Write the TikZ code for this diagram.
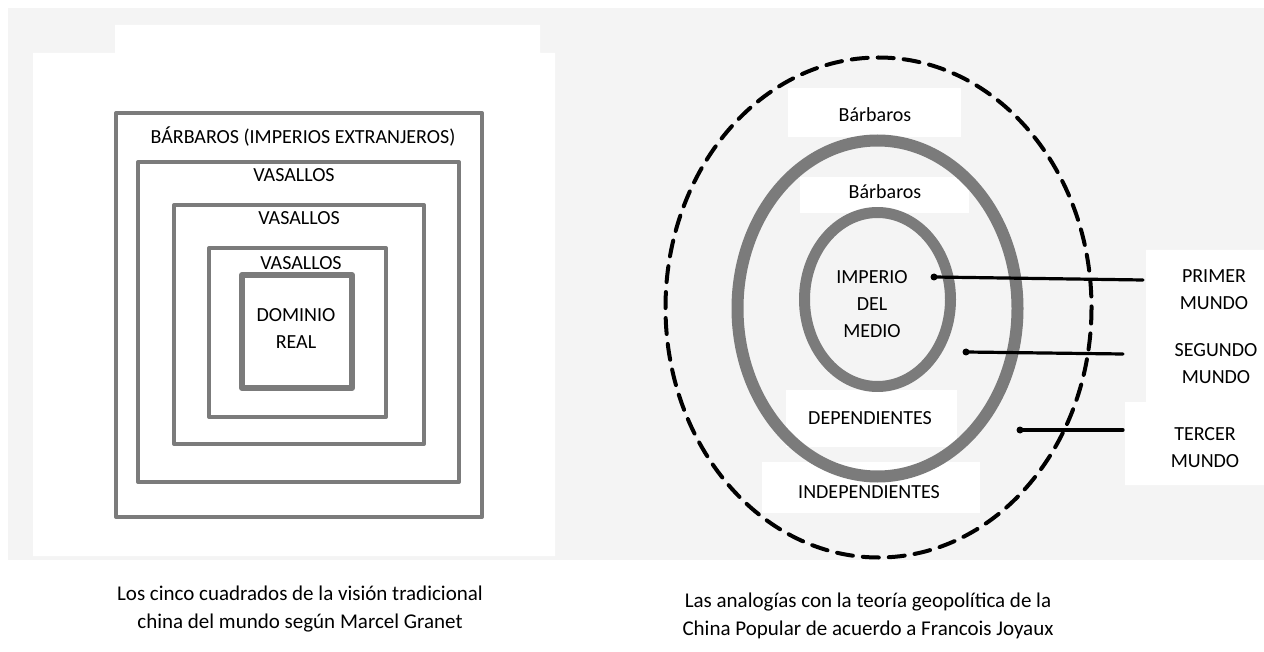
\documentclass[tikz,border=0pt]{standalone}
\usepackage{fontspec}
\setmainfont{Carlito}
\tikzset{
  ring/.style={draw=ringgray,line width=#1},
  lbl/.style={font=\fontsize{10}{13.5}\selectfont,align=center,inner sep=1pt},
  captext/.style={font=\fontsize{10.5}{13.75}\selectfont,align=center,inner sep=1pt},
  patch/.style={fill=white,draw=none},
  link/.style={line width=1.6pt,line cap=round},
}
\definecolor{ringgray}{HTML}{7B7B7B}
\definecolor{scan}{HTML}{F4F4F4}
\begin{document}
\begin{tikzpicture}[x=0.5pt,y=-0.5pt,line join=round]
  \useasboundingbox (0,0) rectangle (1264,652);
  % faint scanned backdrop and the white patches on it
  \fill[scan] (8,8) rectangle (1264,560);
  \fill[patch] (33,53) rectangle (555,556) (115,25) rectangle (540,53);
  \fill[patch] (788,88) rectangle (961,137);
  \fill[patch] (800,177) rectangle (969,213);
  \fill[patch] (786,390) rectangle (957,447);
  \fill[patch] (762,462) rectangle (980,513);
  \fill[patch] (1146,250) rectangle (1264,402) (1125,402) rectangle (1264,485);

  % left: the five nested squares
  \draw[ring=2pt] (116,113) rectangle (482,517);
  \draw[ring=2pt] (138,162) rectangle (459,482);
  \draw[ring=2pt] (174,205) rectangle (424,444);
  \draw[ring=2pt] (209,248) rectangle (386,417);
  \draw[ring=3pt] (242,275) rectangle (352,388);
  \node[lbl] (barb) at (303,137) {BÁRBAROS (IMPERIOS EXTRANJEROS)};
  \node[lbl] (vas1) at (294,175) {VASALLOS};
  \node[lbl] (vas2) at (299,218) {VASALLOS};
  \node[lbl] (vas3) at (301,263) {VASALLOS};
  \node[lbl] (dom) at (296,329) {DOMINIO\\REAL};

  % right: the rings of the world
  \draw[line width=2pt,line cap=round,dash pattern=on 8pt off 5pt] (878.5,307.5) ellipse [x radius=213, y radius=250];
  \draw[ring=6pt] (877.5,308.5) ellipse [x radius=140, y radius=168];
  \draw[ring=5.5pt] (877.5,299.5) ellipse [x radius=73, y radius=87];
  \node[lbl] (bar1) at (875,115) {Bárbaros};
  \node[lbl] (bar2) at (885,192) {Bárbaros};
  \node[lbl] (imp) at (872,304) {IMPERIO\\DEL\\MEDIO};
  \node[lbl] (dep) at (870,418) {DEPENDIENTES};
  \node[lbl] (indep) at (869,492) {INDEPENDIENTES};
  \node[lbl] (primer) at (1214,290) {PRIMER\\MUNDO};
  \node[lbl] (segundo) at (1216,364) {SEGUNDO\\MUNDO};
  \node[lbl] (tercer) at (1205,448) {TERCER\\MUNDO};

  \coordinate (p1) at (934,277);
  \coordinate (p1e) at (1143,280);
  \coordinate (p2) at (966,352);
  \coordinate (p2e) at (1123,354);
  \coordinate (p3) at (1020,430);
  \coordinate (p3e) at (1123,430);
  \foreach \s/\e in {p1/p1e,p2/p2e,p3/p3e}{
    \draw[link] (\s) -- (\e);
    \fill (\s) circle [radius=3.5];
  }

  % captions
  \node[captext] (capl) at (300,609) {Los cinco cuadrados de la visión tradicional\\china del mundo según Marcel Granet};
  \node[captext] (capr) at (868,616) {Las analogías con la teoría geopolítica de la\\China Popular de acuerdo a Francois Joyaux};
\end{tikzpicture}
\end{document}
